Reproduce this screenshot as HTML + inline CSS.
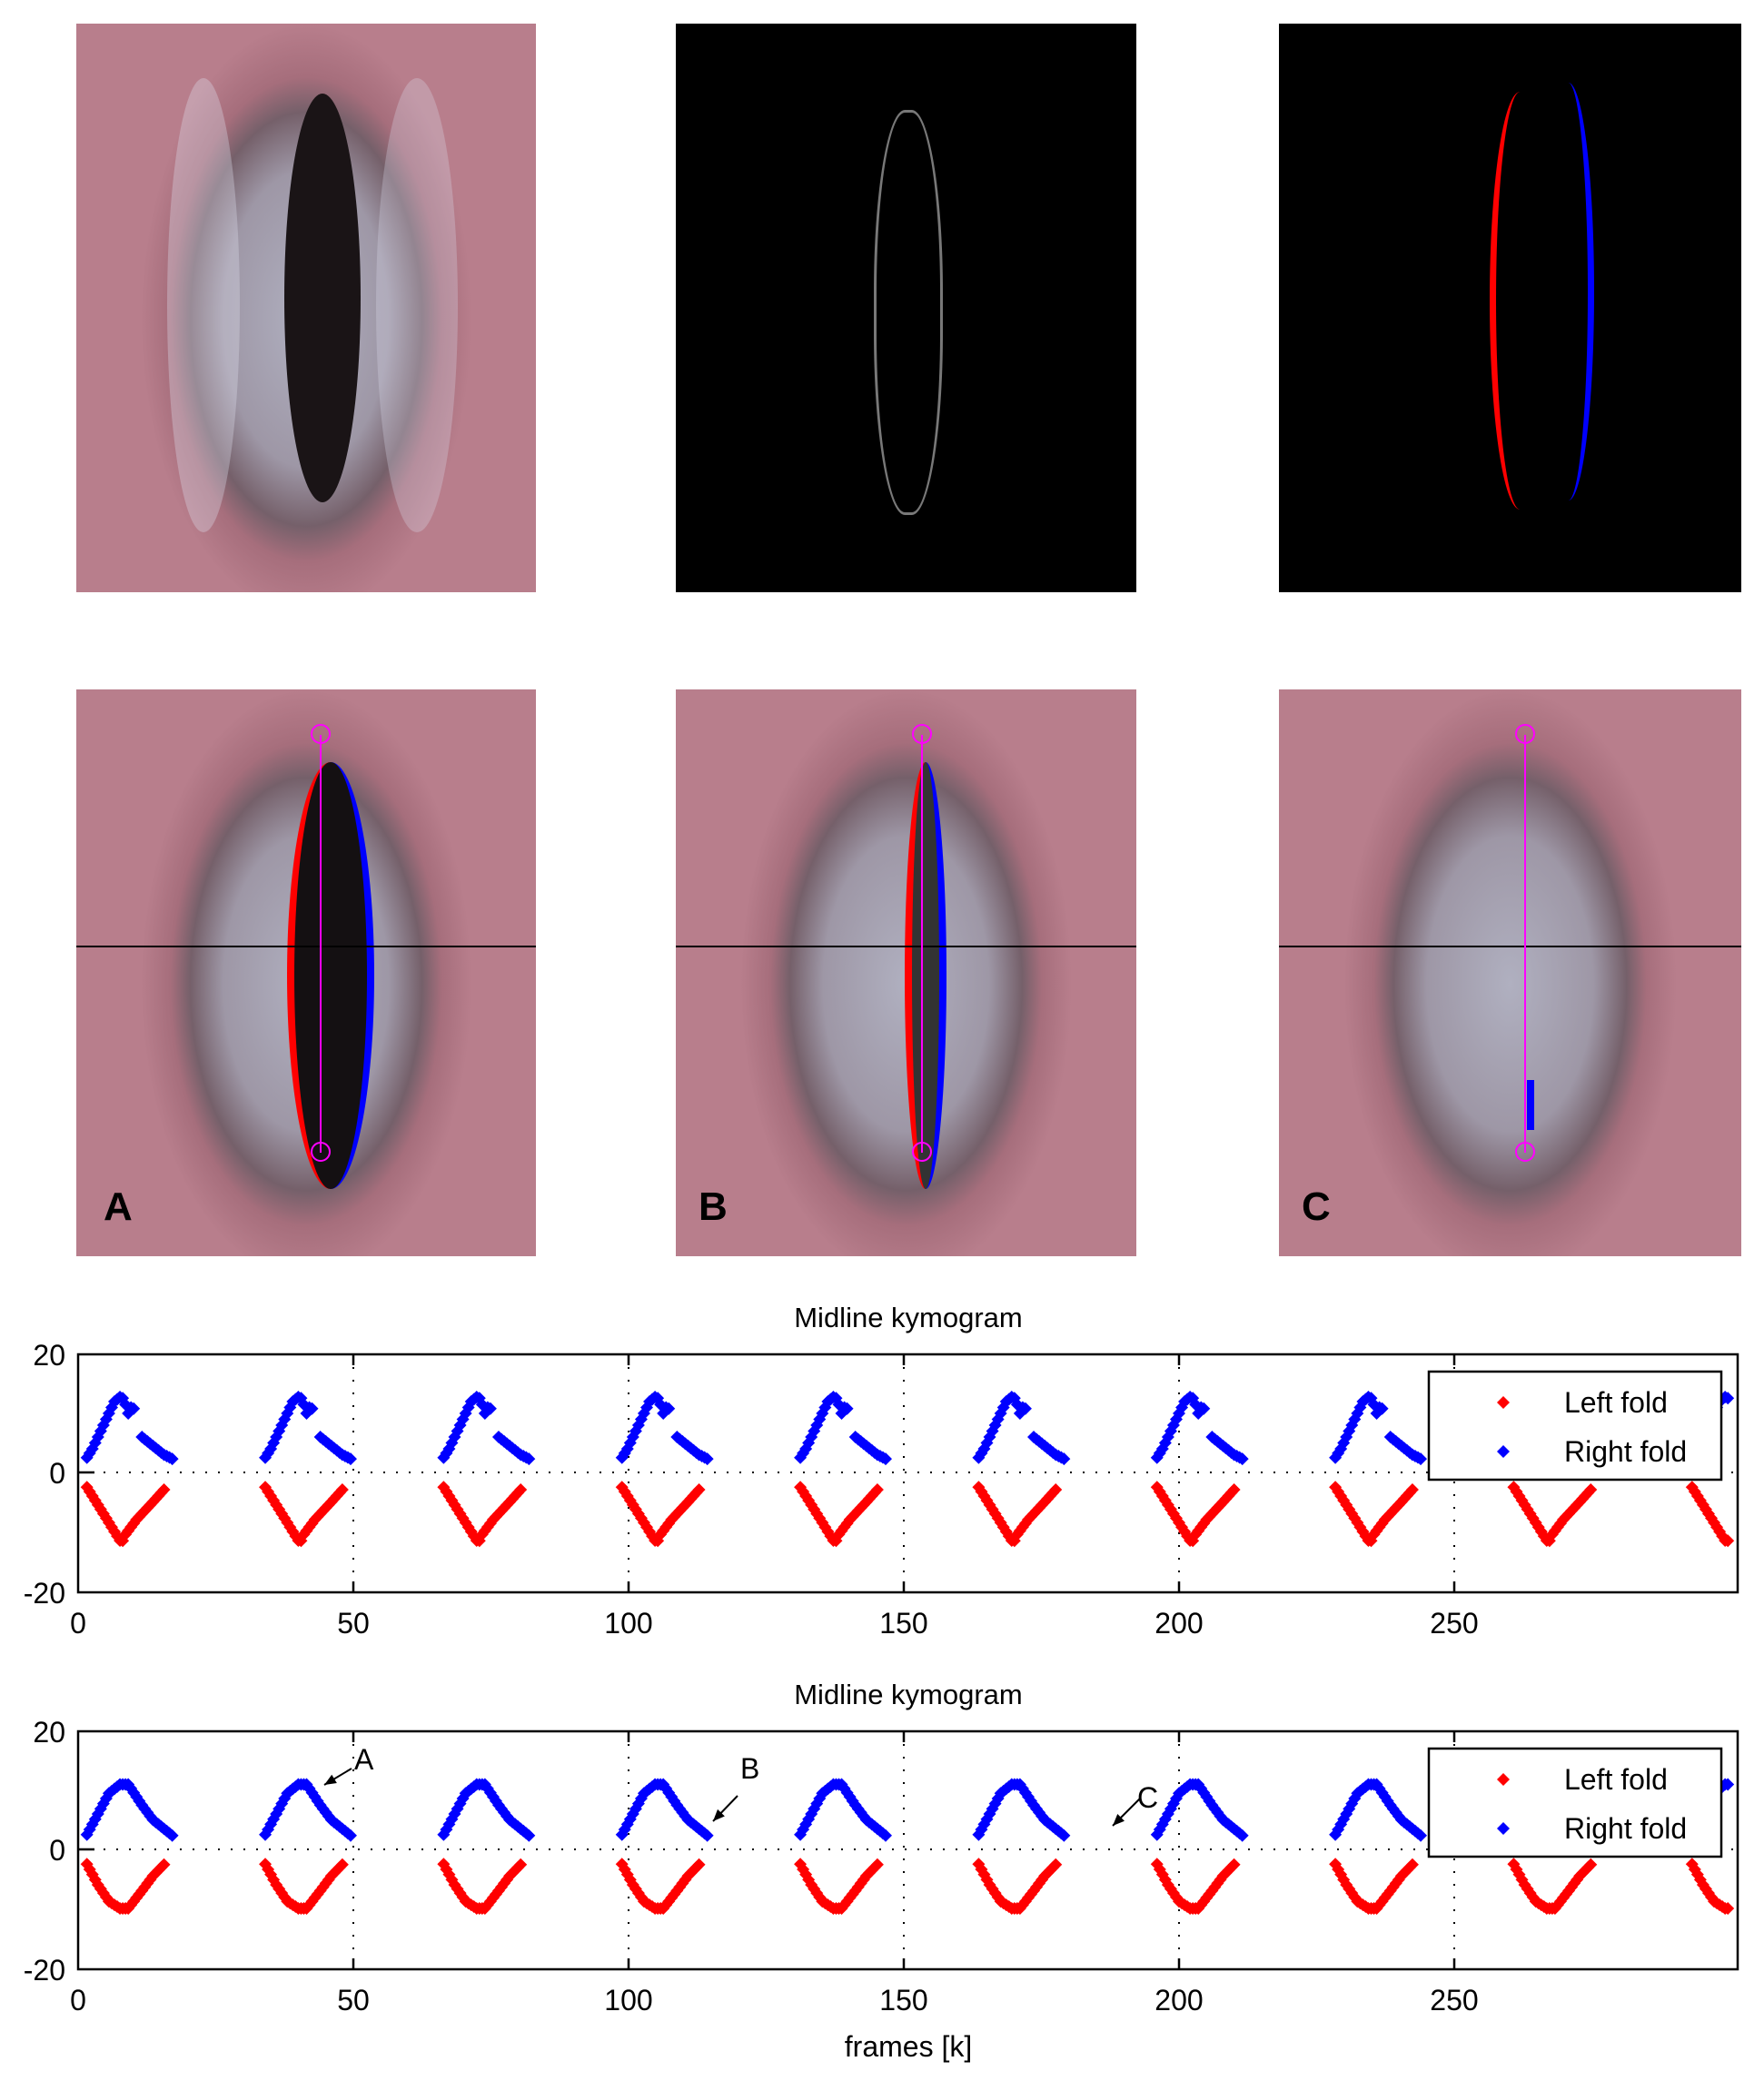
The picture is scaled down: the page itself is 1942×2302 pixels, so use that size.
<!DOCTYPE html>
<html><head><meta charset="utf-8"><style>
body{margin:0;background:#fff;width:1942px;height:2302px;overflow:hidden;position:relative;font-family:"Liberation Sans",sans-serif}
.p{position:absolute;overflow:hidden}
.img{background:radial-gradient(ellipse 36% 52% at 50% 52%,#b0b0c0 0%,#9e97a6 50%,#75606a 70%,#a66e7c 82%,#b87e8c 100%)}
.blk{background:#000}
svg{position:absolute;left:0;top:0}
</style></head><body>
<div class="p img" style="left:84px;top:26px;width:506px;height:626px">
 <div style="position:absolute;left:229px;top:77px;width:84px;height:450px;border-radius:50%;background:#1a1416"></div>
 <div style="position:absolute;left:100px;top:60px;width:80px;height:500px;border-radius:50%;background:rgba(220,220,235,.35)"></div>
 <div style="position:absolute;left:330px;top:60px;width:90px;height:500px;border-radius:50%;background:rgba(220,220,235,.3)"></div>
</div>
<div class="p blk" style="left:744px;top:26px;width:507px;height:626px">
 <div style="position:absolute;left:218px;top:95px;width:70px;height:440px;border-radius:45%;border:3px solid rgba(200,200,200,.6)"></div>
</div>
<div class="p blk" style="left:1408px;top:26px;width:509px;height:626px">
 <div style="position:absolute;left:232px;top:75px;width:60px;height:460px;border-radius:50% 0 0 50%;border-left:7px solid #f00"></div>
 <div style="position:absolute;left:290px;top:65px;width:50px;height:460px;border-radius:0 50% 50% 0;border-right:7px solid #00f"></div>
</div>
<div class="p img" style="left:84px;top:759px;width:506px;height:624px">
 <div style="position:absolute;left:232px;top:80px;width:80px;height:470px;border-radius:50%;background:#141012;border-left:8px solid #f00;border-right:8px solid #00f"></div>
 <div style="position:absolute;left:0;top:282px;width:506px;height:2px;background:#000"></div>
 <div style="position:absolute;left:268px;top:50px;width:2px;height:460px;background:#f0f"></div>
 <div style="position:absolute;left:30px;top:545px;font:bold 44px 'Liberation Sans';color:#000">A</div>
</div>
<div class="p img" style="left:744px;top:759px;width:507px;height:624px">
 <div style="position:absolute;left:252px;top:80px;width:30px;height:470px;border-radius:50%;background:#333;border-left:8px solid #f00;border-right:8px solid #00f"></div>
 <div style="position:absolute;left:0;top:282px;width:507px;height:2px;background:#000"></div>
 <div style="position:absolute;left:270px;top:50px;width:2px;height:460px;background:#f0f"></div>
 <div style="position:absolute;left:25px;top:545px;font:bold 44px 'Liberation Sans';color:#000">B</div>
</div>
<div class="p img" style="left:1408px;top:759px;width:509px;height:624px">
 <div style="position:absolute;left:0;top:282px;width:509px;height:2px;background:#000"></div>
 <div style="position:absolute;left:270px;top:50px;width:2px;height:460px;background:#f0f"></div>
 <div style="position:absolute;left:273px;top:430px;width:8px;height:55px;background:#00f"></div>
 <div style="position:absolute;left:25px;top:545px;font:bold 44px 'Liberation Sans';color:#000">C</div>
</div>
<svg id="s" width="1942" height="2302"></svg>
<script>
var S=document.getElementById("s"),h="";
var X0=86,PX=6.06;
function interp(pts,t){for(var i=0;i<pts.length-1;i++){if(t>=pts[i][0]&&t<=pts[i+1][0]){var a=pts[i],b=pts[i+1];return a[1]+(b[1]-a[1])*(t-a[0])/(b[0]-a[0]);}}return null;}
var B1=[[0,2.5],[1,4],[2,6],[3,8],[4,10],[5,12],[6.3,13],[7,11.5],[7.5,10],[8,11],[8.5,10.8]],B1b=[[10,6],[12,4.5],[14,3],[15.7,2.2]];
var R1=[[0,-2.5],[2,-5.5],[4,-8.5],[6.3,-12],[7,-10.5],[9,-8],[12,-5],[14.4,-2.5]];
var B2=[[0,2.5],[2,6],[4,9.5],[6,11],[7.5,11],[10,7.5],[12,5],[15.7,2.2]];
var R2=[[0,-2.5],[2,-6],[4,-8.8],[6,-10],[7.5,-10],[10,-7],[12,-4.5],[14.4,-2.2]];
function dia(x,y,c){return '<path d="M'+x+' '+(y-7)+'L'+(x+7)+' '+y+'L'+x+' '+(y+7)+'L'+(x-7)+' '+y+'Z" fill="'+c+'"/>';}
function plot(top,title,bset,rset){
 var bot=top+262,zero=top+130,U=6.5;
 h+='<text x="1000" y="'+(top-30)+'" font-size="31" text-anchor="middle" font-family="Liberation Sans">'+title+'</text>';
 h+='<rect x="'+X0+'" y="'+top+'" width="'+(1913-X0)+'" height="262" fill="#fff" stroke="#000" stroke-width="2.5"/>';
 for(var k=50;k<=250;k+=50){var x=X0+k*PX;h+='<line x1="'+x+'" y1="'+top+'" x2="'+x+'" y2="'+bot+'" stroke="#000" stroke-width="2" stroke-dasharray="2,12"/>';
  h+='<line x1="'+x+'" y1="'+top+'" x2="'+x+'" y2="'+(top+12)+'" stroke="#000" stroke-width="2.5"/><line x1="'+x+'" y1="'+bot+'" x2="'+x+'" y2="'+(bot-12)+'" stroke="#000" stroke-width="2.5"/>';}
 h+='<line x1="'+X0+'" y1="'+zero+'" x2="1913" y2="'+zero+'" stroke="#000" stroke-width="2" stroke-dasharray="2,12"/>';
 h+='<line x1="'+X0+'" y1="'+zero+'" x2="'+(X0+18)+'" y2="'+zero+'" stroke="#000" stroke-width="2.5"/>';
 for(var k=0;k<=250;k+=50)h+='<text x="'+(X0+k*PX)+'" y="'+(bot+45)+'" font-size="32" text-anchor="middle" font-family="Liberation Sans">'+k+'</text>';
 h+='<text x="72" y="'+(top+12)+'" font-size="32" text-anchor="end" font-family="Liberation Sans">20</text>';
 h+='<text x="72" y="'+(zero+12)+'" font-size="32" text-anchor="end" font-family="Liberation Sans">0</text>';
 h+='<text x="72" y="'+(bot+12)+'" font-size="32" text-anchor="end" font-family="Liberation Sans">-20</text>';
 for(var c=0;c<10;c++){var s=1.6+c*32.4;
  for(var t=0;t<=16;t+=0.5){var f=s+t;if(f>300)break;var x=X0+f*PX;
   for(var j=0;j<bset.length;j++){var v=interp(bset[j],t);if(v!==null){h+=dia(x,zero-v*U,"#00f");break;}}
   var v=interp(rset,t);if(v!==null)h+=dia(x,zero-v*U,"#f00");}}
 var lt=top+19;
 h+='<rect x="1573" y="'+lt+'" width="322" height="119" fill="#fff" stroke="#000" stroke-width="2.5"/>';
 h+=dia(1655,lt+34,"#f00")+dia(1655,lt+88,"#00f");
 h+='<text x="1722" y="'+(lt+45)+'" font-size="32" font-family="Liberation Sans">Left fold</text>';
 h+='<text x="1722" y="'+(lt+99)+'" font-size="32" font-family="Liberation Sans">Right fold</text>';
}
plot(1491,"Midline kymogram",[B1,B1b],R1);
plot(1906,"Midline kymogram",[B2],R2);
function arr(x1,y1,x2,y2,l,lx,ly){h+='<line x1="'+x1+'" y1="'+y1+'" x2="'+x2+'" y2="'+y2+'" stroke="#000" stroke-width="2"/>';
 var a=Math.atan2(y2-y1,x2-x1),L=14;h+='<path d="M'+x2+' '+y2+'L'+(x2-L*Math.cos(a-0.4))+' '+(y2-L*Math.sin(a-0.4))+'L'+(x2-L*Math.cos(a+0.4))+' '+(y2-L*Math.sin(a+0.4))+'Z"/>';
 h+='<text x="'+lx+'" y="'+ly+'" font-size="32" font-family="Liberation Sans">'+l+'</text>';}
arr(387,1947,357,1965,"A",390,1948);arr(812,1977,785,2005,"B",815,1958);arr(1255,1980,1225,2010,"C",1252,1990);
h+='<text x="1000" y="2264" font-size="32" text-anchor="middle" font-family="Liberation Sans">frames [k]</text>';
[[353,808],[353,1268],[1015,808],[1015,1268],[1679,808],[1679,1268]].forEach(function(p){h+='<circle cx="'+p[0]+'" cy="'+p[1]+'" r="10" fill="none" stroke="#f0f" stroke-width="2"/>';});
S.innerHTML=h;
</script>
</body></html>
